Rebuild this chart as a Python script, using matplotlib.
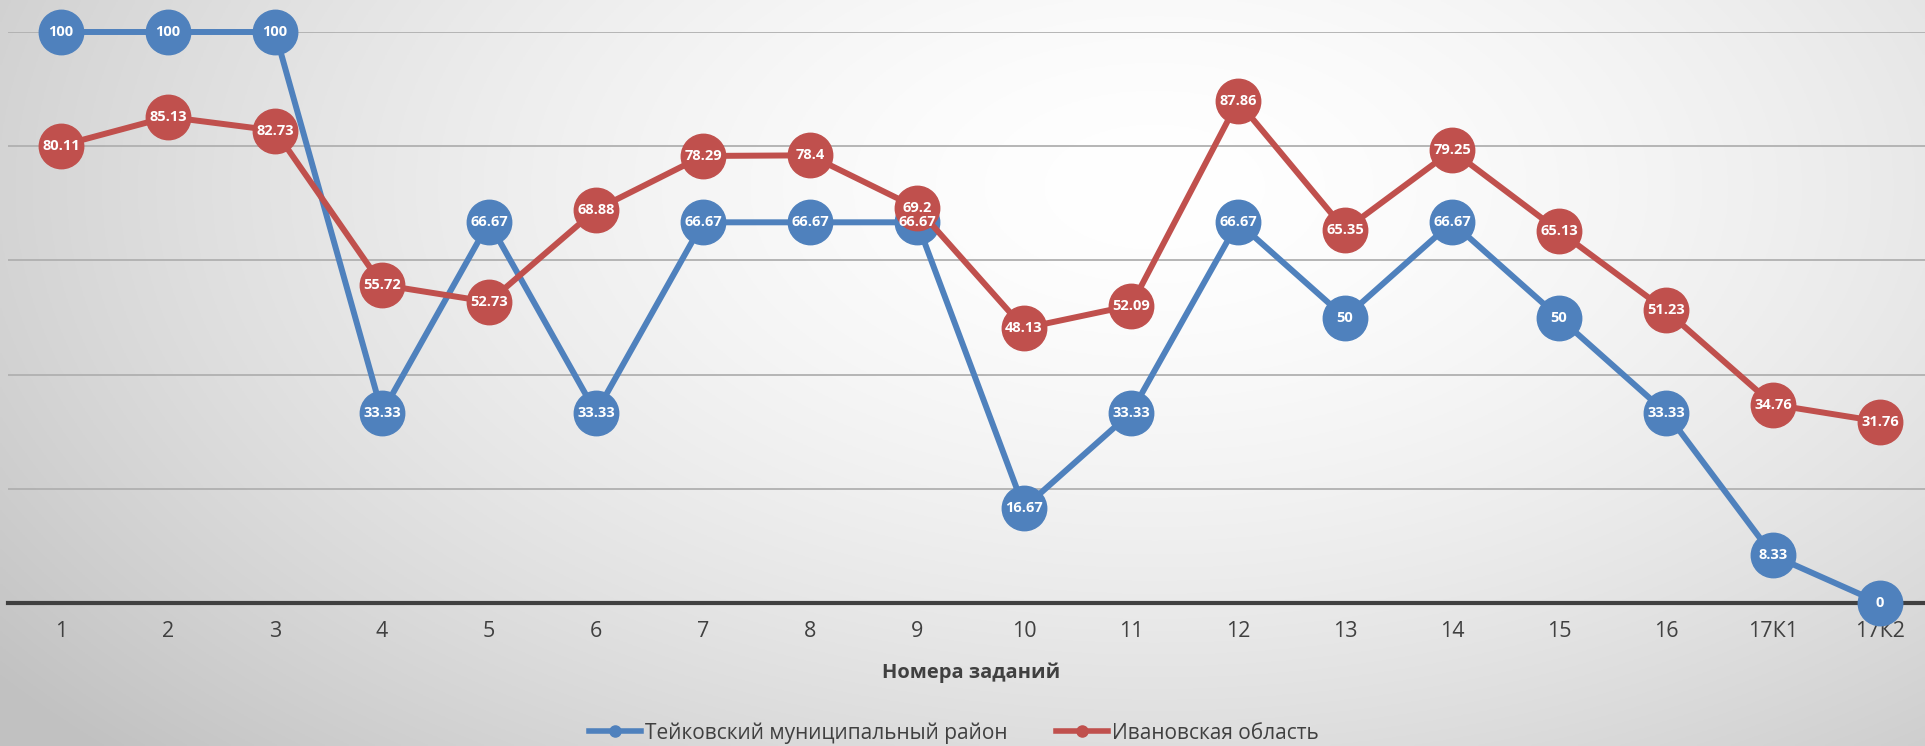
import numpy as np
import matplotlib
matplotlib.use("Agg")
import matplotlib.pyplot as plt
from matplotlib.lines import Line2D

plt.rcParams['font.family'] = ['Open Sans', 'DejaVu Sans']

zadaniya = ["1", "2", "3", "4", "5", "6", "7", "8", "9", "10", "11", "12",
            "13", "14", "15", "16", "17К1", "17К2"]
teykovo = [100, 100, 100, 33.33, 66.67, 33.33, 66.67, 66.67, 66.67, 16.67,
           33.33, 66.67, 50, 66.67, 50, 33.33, 8.33, 0]
ivanovo = [80.11, 85.13, 82.73, 55.72, 52.73, 68.88, 78.29, 78.4, 69.2, 48.13,
           52.09, 87.86, 65.35, 79.25, 65.13, 51.23, 34.76, 31.76]

niebieski = "#4F81BD"
czerwony = "#C0504D"

W, H = 1925, 746
fig = plt.figure(figsize=(W / 100, H / 100), dpi=100)

# tlo - gradient radialny
tlo = fig.add_axes([0, 0, 1, 1], zorder=-10)
yy, xx = np.mgrid[0:1:300j, 0:1:700j]
r = np.sqrt(((xx - 0.6) / 0.75) ** 2 + ((yy - 0.25) / 1.1) ** 2)
r = np.clip(r, 0, 1)
szary = 1.0 - 0.24 * r ** 1.6
tlo.imshow(np.dstack([szary] * 3), extent=[0, 1, 0, 1], origin="upper", aspect="auto")
tlo.axis("off")

ax = fig.add_axes([7.5 / W, 1 - 603 / H, 1 - 7.5 / W, (603 - 32) / H])
ax.set_facecolor("none")
x = np.arange(1, len(zadaniya) + 1)

ax.plot(x, teykovo, color=niebieski, lw=4.3, marker="o", ms=32, clip_on=False, zorder=3)
ax.plot(x, ivanovo, color=czerwony, lw=4.3, marker="o", ms=32, clip_on=False, zorder=4)

for xi, v in zip(x, teykovo):
    ax.text(xi, v, f"{v:g}", color="white", fontsize=10.5, fontweight="bold",
            ha="center", va="center", zorder=6, clip_on=False)
for xi, v in zip(x, ivanovo):
    ax.text(xi, v, f"{v:g}", color="white", fontsize=10.5, fontweight="bold",
            ha="center", va="center", zorder=7, clip_on=False)

ax.set_ylim(0, 100)
ax.set_xlim(0.5, 0.5 + (W - 7.5) / 107)
ax.set_yticks([20, 40, 60, 80, 100])
ax.yaxis.grid(True, color="#b0b0b0", lw=1.3)
ax.set_axisbelow(True)
ax.tick_params(axis="y", left=False, labelleft=False)
ax.set_xticks(x)
ax.set_xticklabels(zadaniya, fontsize=15.5, color="#404040")
ax.tick_params(axis="x", length=0, pad=13)
for s in ["top", "right", "left"]:
    ax.spines[s].set_visible(False)
ax.spines["bottom"].set_color("#404040")
ax.spines["bottom"].set_linewidth(3)
ax.spines["bottom"].set_zorder(2)

fig.text(971 / W, 1 - 673 / H, "Номера заданий", fontsize=14.5, fontweight="bold",
         color="#404040", ha="center", va="center")

uchwyty = [
    Line2D([], [], color=niebieski, lw=4, marker="o", ms=8),
    Line2D([], [], color=czerwony, lw=4, marker="o", ms=8),
]
fig.legend(uchwyty, ["Тейковский муниципальный район", "Ивановская область"],
           loc="center", bbox_to_anchor=(954 / W, 1 - 733 / H), ncol=2, frameon=False,
           fontsize=15, handlelength=2.5, columnspacing=2.3, handletextpad=0.2,
           labelcolor="#404040")

fig.savefig("out.png", dpi=100)
